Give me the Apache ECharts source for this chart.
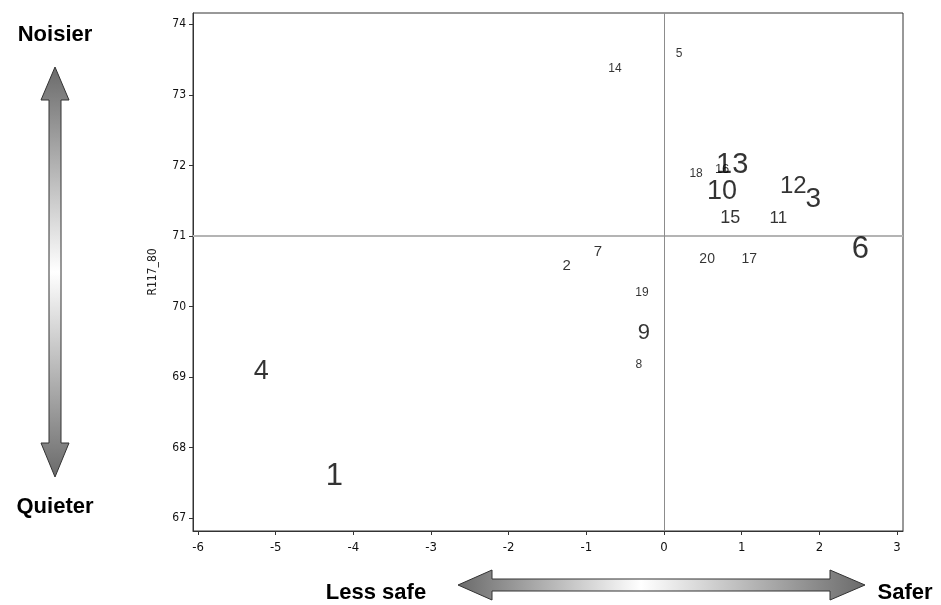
<!DOCTYPE html>
<html>
<head>
<meta charset="utf-8">
<script src="https://cdn.jsdelivr.net/npm/echarts@6/dist/echarts.min.js"></script>
<style>
html,body{margin:0;padding:0;background:#fff;}
#chart{width:941px;height:605px;}
</style>
</head>
<body>
<div id="chart"></div>
<script>
// ---- data ----
const pointLabels = ['1','2','3','4','5','6','7','8','9','10','11','12','13','14','15','16','17','18','19','20'];
const xValues = [-4.245,-1.252,1.923,-5.187,0.194,2.529,-0.852,-0.323,-0.258,0.748,1.471,1.665,0.877,-0.632,0.852,0.748,1.097,0.413,-0.284,0.555];
const yValues = [67.60,70.57,71.52,69.08,73.58,70.81,70.77,69.17,69.62,71.63,71.25,71.71,72.01,73.37,71.25,71.95,70.67,71.88,70.19,70.67];
const labelFontSizes = [31,15,28,27,12,31,15,12,22,27,17,24,29,12,18,13,14,12,12,14];
const xTicks = [-6,-5,-4,-3,-2,-1,0,1,2,3];
const yTicks = [67,68,69,70,71,72,73,74];
const refX = 0;
const refY = 71;
const yAxisTitle = 'R117_80';
const sideTexts = {top:'Noisier', bottom:'Quieter', left:'Less safe', right:'Safer'};

const tickFont = "'Liberation Sans Narrow','DejaVu Sans Condensed','Liberation Sans',sans-serif";
const chart = echarts.init(document.getElementById('chart'), null, {renderer:'canvas'});

const seriesData = pointLabels.map((name, i) => ({
  name: name,
  value: [xValues[i], yValues[i]],
  label: {fontSize: labelFontSizes[i]}
}));

function vGrad(){
  return new echarts.graphic.LinearGradient(0,0,0,1,[
    {offset:0,color:'#6a6a6a'},{offset:0.5,color:'#ffffff'},{offset:1,color:'#6a6a6a'}]);
}
function hGrad(){
  return new echarts.graphic.LinearGradient(0,0,1,0,[
    {offset:0,color:'#6a6a6a'},{offset:0.45,color:'#ffffff'},{offset:1,color:'#6a6a6a'}]);
}
const sideFont = "bold 22px 'Liberation Sans',Arial,sans-serif";

const option = {
  animation:false,
  backgroundColor:'#ffffff',
  grid:{left:193,right:38,top:13,bottom:74,show:true,borderColor:'#333',borderWidth:1,backgroundColor:'transparent'},
  xAxis:{
    type:'value', min:-6.065, max:3.077,
    axisLine:{show:true,onZero:false,lineStyle:{color:'#333',width:1}},
    axisTick:{show:true,length:4,customValues:xTicks,lineStyle:{color:'#333'}},
    axisLabel:{customValues:xTicks,margin:10,color:'#111',fontSize:13,fontFamily:tickFont},
    splitLine:{show:false}
  },
  yAxis:{
    type:'value', min:66.82, max:74.16,
    name:yAxisTitle, nameLocation:'middle', nameGap:34, nameRotate:90,
    nameTextStyle:{color:'#222',fontSize:12,fontFamily:tickFont},
    axisLine:{show:true,onZero:false,lineStyle:{color:'#333',width:1}},
    axisTick:{show:true,length:4,customValues:yTicks,lineStyle:{color:'#333'}},
    axisLabel:{customValues:yTicks,margin:7,color:'#111',fontSize:12,fontFamily:tickFont},
    splitLine:{show:false}
  },
  series:[{
    type:'scatter',
    symbolSize:1,
    itemStyle:{color:'rgba(0,0,0,0)'},
    label:{show:true,position:'inside',formatter:'{b}',color:'#000',fontFamily:"'Liberation Sans',Arial,sans-serif"},
    data:seriesData,
    markLine:{
      silent:true, symbol:'none', animation:false,
      label:{show:false},
      data:[
        {yAxis:refY, lineStyle:{color:'#b4b4b4',width:2,type:'solid'}},
        {xAxis:refX, lineStyle:{color:'#8c8c8c',width:1,type:'solid'}}
      ]
    },
    z:5
  }],
  graphic:[
    {type:'polygon', shape:{points:[[55,67],[69,100],[61,100],[61,443],[69,443],[55,477],[41,443],[49,443],[49,100],[41,100]]},
     style:{fill:vGrad(),stroke:'#333',lineWidth:1}},
    {type:'polygon', shape:{points:[[458,585],[492,570],[492,579],[830,579],[830,570],[865,585],[830,600],[830,591],[492,591],[492,600]]},
     style:{fill:hGrad(),stroke:'#333',lineWidth:1}},
    {type:'text', style:{text:sideTexts.top,x:55,y:35,align:'center',verticalAlign:'middle',font:sideFont,fill:'#000'}},
    {type:'text', style:{text:sideTexts.bottom,x:55,y:507,align:'center',verticalAlign:'middle',font:sideFont,fill:'#000'}},
    {type:'text', style:{text:sideTexts.left,x:376,y:593,align:'center',verticalAlign:'middle',font:sideFont,fill:'#000'}},
    {type:'text', style:{text:sideTexts.right,x:905,y:593,align:'center',verticalAlign:'middle',font:sideFont,fill:'#000'}}
  ]
};
chart.setOption(option);
</script>
</body>
</html>
